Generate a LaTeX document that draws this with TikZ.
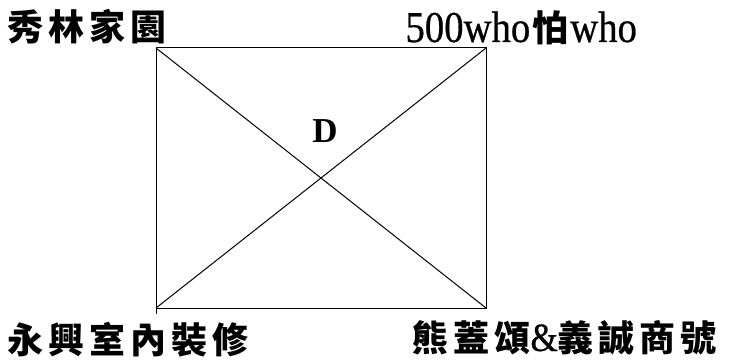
\documentclass[tikz,border=0pt]{standalone}
\usepackage{fontspec}
\newfontfamily\cjkf{Noto Sans CJK TC}
\newfontfamily\serf{Liberation Serif}
\newfontfamily\serfn[FakeStretch=0.88,FakeBold=0.6]{Liberation Serif}
\newcommand\gapx{\hspace{5pt}}
\begin{document}
\begin{tikzpicture}[x=1pt,y=-1pt,line width=1pt,
  lbl/.style={inner sep=0pt,anchor=base west,font=\cjkf\bfseries\fontsize{36}{36}\selectfont},
  big/.style={inner sep=0pt,font=\serf\bfseries\fontsize{35}{35}\selectfont}]
\useasboundingbox (0,0) rectangle (735,363);
\coordinate (tl) at (156,48);
\coordinate (tr) at (486,48);
\coordinate (br) at (486,308);
\coordinate (bl) at (156,308);
\coordinate (blx) at (156,314);
\draw (tl) -- (tr) -- (br) -- (bl);
\draw (tl) -- (blx);
\draw (tl) -- (br);
\draw (tr) -- (bl);
\node[big] (d) at (325,131) {D};
\node[lbl] (a) at (7,41) {秀\gapx 林\gapx 家\gapx 園};
\node[lbl] (b) at (405,42) {{\serfn\mdseries\fontsize{44}{44}\selectfont 500who}\hspace{2pt}怕\hspace{2pt}{\serfn\mdseries\fontsize{44}{44}\selectfont who}};
\node[lbl] (c) at (7,353) {永\gapx 興\gapx 室\gapx 內\gapx 裝\gapx 修};
\node[lbl] (e) at (412,351) {熊\gapx 蓋\gapx 頌{\serfn\mdseries\fontsize{40}{40}\selectfont\&}義\gapx 誠\gapx 商\gapx 號};
\end{tikzpicture}
\end{document}
